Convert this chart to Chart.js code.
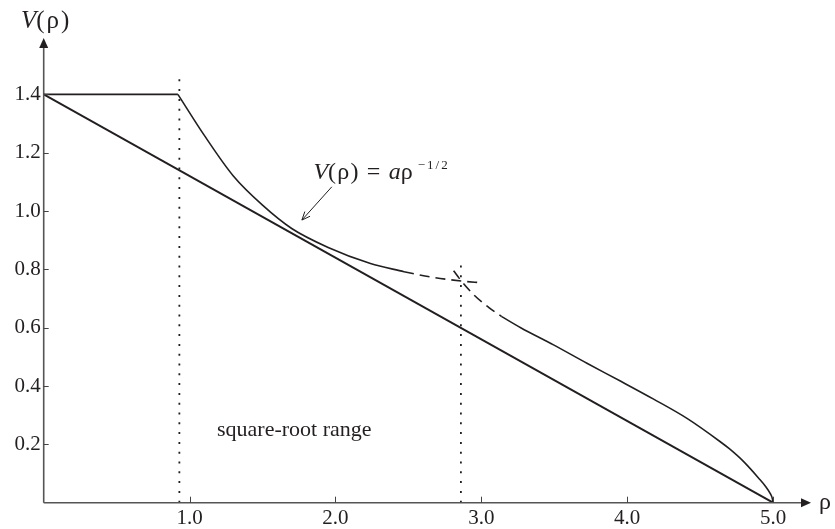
<!DOCTYPE html>
<html lang="en">
<head>
    <meta charset="UTF-8">
    <title>V(ρ) square-root range</title>
    <script src="https://cdn.jsdelivr.net/npm/chart.js@4.4.1/dist/chart.umd.min.js"></script>
    <style>
        body { margin: 0; background: #fff; }
        .wrap { width: 835px; height: 529px; position: relative; }
    </style>
</head>
<body>
    <div class="wrap"><canvas id="chart"></canvas></div>

    <script>
        // tick values
        const xTicks = [1, 2, 3, 4, 5];
        const yTicks = [0.2, 0.4, 0.6, 0.8, 1.0, 1.2, 1.4];

        // straight chord from (0, 1.4) to (5, 0)
        const chordX = [0, 5];
        const chordY = [1.4, 0];

        // flat cap at 1.4
        const capX = [0, 0.92];
        const capY = [1.4, 1.4];

        // a*rho^(-1/2) branch, solid part
        const powX = [0.92, 1.1, 1.3, 1.5, 1.7, 1.95, 2.24, 2.47];
        const powY = [1.4, 1.26, 1.12, 1.02, 0.94, 0.875, 0.82, 0.792];

        // a*rho^(-1/2) branch, dashed continuation
        const powDashX = [2.47, 2.65, 2.862, 3.0];
        const powDashY = [0.792, 0.774, 0.760, 0.754];

        // right branch, dashed start
        const rightDashX = [2.81, 2.86, 2.95, 3.05, 3.14];
        const rightDashY = [0.795, 0.762, 0.712, 0.670, 0.638];

        // right branch, solid
        const rightX = [3.14, 3.27, 3.495, 3.724, 3.953, 4.181, 4.41, 4.638, 4.7, 4.8, 4.9, 4.95, 4.98, 4.995, 5.0];
        const rightY = [0.638, 0.600, 0.541, 0.478, 0.417, 0.355, 0.289, 0.209, 0.185, 0.14, 0.085, 0.055, 0.032, 0.014, 0];

        // dotted markers
        const mark1X = [0.93, 0.93];
        const mark1Y = [0, 1.455];
        const mark2X = [2.86, 2.86];
        const mark2Y = [0, 0.818];

        const INK = '#231f20';
        const SERIF = "'Liberation Serif', 'Times New Roman', serif";

        function pts(xs, ys) {
            return xs.map((x, i) => ({ x: x, y: ys[i] }));
        }

        function line(xs, ys, extra) {
            return Object.assign({
                data: pts(xs, ys),
                borderColor: INK,
                borderWidth: 1.6,
                pointRadius: 0,
                fill: false,
                tension: 0
            }, extra || {});
        }

        const decor = {
            id: 'decor',
            afterDatasetsDraw(chart) {
                const ctx = chart.ctx;
                const xs = chart.scales.x, ys = chart.scales.y;
                const x0 = xs.getPixelForValue(0), y0 = ys.getPixelForValue(0);
                const xEnd = chart.chartArea.right, yEnd = chart.chartArea.top + 2;
                ctx.save();
                // axes
                ctx.strokeStyle = '#555';
                ctx.fillStyle = INK;
                ctx.lineWidth = 1.6;
                ctx.beginPath();
                ctx.moveTo(x0, y0); ctx.lineTo(xEnd - 6, y0);
                ctx.moveTo(x0, y0); ctx.lineTo(x0, yEnd + 6);
                ctx.stroke();
                // arrow heads
                ctx.beginPath();
                ctx.moveTo(xEnd, y0); ctx.lineTo(xEnd - 10, y0 - 4.5); ctx.lineTo(xEnd - 10, y0 + 4.5);
                ctx.closePath(); ctx.fill();
                ctx.beginPath();
                ctx.moveTo(x0, yEnd); ctx.lineTo(x0 - 4.5, yEnd + 10); ctx.lineTo(x0 + 4.5, yEnd + 10);
                ctx.closePath(); ctx.fill();
                // inside tick marks
                ctx.strokeStyle = '#444';
                ctx.lineWidth = 1;
                ctx.beginPath();
                xTicks.forEach(v => {
                    const px = Math.round(xs.getPixelForValue(v)) + 0.5;
                    ctx.moveTo(px, y0); ctx.lineTo(px, y0 - 6);
                });
                yTicks.forEach(v => {
                    const py = Math.round(ys.getPixelForValue(v)) + 0.5;
                    ctx.moveTo(x0, py); ctx.lineTo(x0 + 5, py);
                });
                ctx.stroke();

                // axis titles
                ctx.textBaseline = 'alphabetic';
                ctx.textAlign = 'left';
                function run(parts, x, y) {
                    parts.forEach(p => {
                        ctx.font = p[1];
                        ctx.letterSpacing = p[3] || '0px';
                        ctx.fillText(p[0], x, y + (p[2] || 0));
                        x += ctx.measureText(p[0]).width;
                    });
                    ctx.letterSpacing = '0px';
                    return x;
                }
                run([['V', 'italic 25px ' + SERIF], ['(ρ)', '25px ' + SERIF, 0, '2px']], 21, 28);
                run([['ρ', '24px ' + SERIF]], 819, 509);

                // annotation
                const lx = xs.getPixelForValue(1.849), ly = ys.getPixelForValue(1.111);
                const ex = run([
                    ['V', 'italic 24px ' + SERIF],
                    ['(ρ) = ', '24px ' + SERIF, 0, '1.2px'],
                    ['a', 'italic 24px ' + SERIF],
                    ['ρ', '24px ' + SERIF]
                ], lx, ly);
                run([['−1/2', '13px ' + SERIF, -10, '2px']], ex + 5, ly);

                // arrow to the curve
                const ax = xs.getPixelForValue(1.975), ay = ys.getPixelForValue(1.083);
                const tx = xs.getPixelForValue(1.77), ty = ys.getPixelForValue(0.969);
                ctx.strokeStyle = INK;
                ctx.lineWidth = 1;
                ctx.beginPath();
                ctx.moveTo(ax, ay); ctx.lineTo(tx, ty);
                const ang = Math.atan2(ty - ay, tx - ax);
                ctx.moveTo(tx - 9 * Math.cos(ang - 0.4), ty - 9 * Math.sin(ang - 0.4));
                ctx.lineTo(tx, ty);
                ctx.lineTo(tx - 9 * Math.cos(ang + 0.4), ty - 9 * Math.sin(ang + 0.4));
                ctx.stroke();

                // region label
                ctx.font = '22px ' + SERIF;
                ctx.fillText('square-root range', 217, 436);
                ctx.restore();
            }
        };

        new Chart(document.getElementById('chart'), {
            type: 'line',
            data: {
                datasets: [
                    line(mark1X, mark1Y, { borderDash: [2, 7.8], borderWidth: 1.8 }),
                    line(mark2X, mark2Y, { borderDash: [2, 7.8], borderWidth: 1.8 }),
                    line(chordX, chordY, { borderWidth: 1.9 }),
                    line(capX, capY),
                    line(powX, powY, { cubicInterpolationMode: 'monotone' }),
                    line(powDashX, powDashY, { borderDash: [10, 6], cubicInterpolationMode: 'monotone' }),
                    line(rightDashX, rightDashY, { borderDash: [10, 6], cubicInterpolationMode: 'monotone' }),
                    line(rightX, rightY, { cubicInterpolationMode: 'monotone' })
                ]
            },
            options: {
                responsive: true,
                maintainAspectRatio: false,
                animation: false,
                layout: { padding: { left: 0, right: 24, top: 36, bottom: 0 } },
                plugins: {
                    legend: { display: false },
                    tooltip: { enabled: false }
                },
                scales: {
                    x: {
                        type: 'linear',
                        min: 0,
                        max: 5.26,
                        grid: { display: false, drawTicks: false },
                        border: { display: false },
                        afterBuildTicks: s => { s.ticks = xTicks.map(v => ({ value: v })); },
                        afterFit: s => { s.height = 26.3; },
                        ticks: {
                            padding: 3,
                            color: INK,
                            font: { family: SERIF, size: 21 },
                            callback: v => v.toFixed(1)
                        }
                    },
                    y: {
                        type: 'linear',
                        min: 0,
                        max: 1.6,
                        grid: { display: false, drawTicks: false },
                        border: { display: false },
                        afterBuildTicks: s => { s.ticks = yTicks.map(v => ({ value: v })); },
                        afterFit: s => { s.width = 43.7; },
                        ticks: {
                            padding: 3,
                            color: INK,
                            font: { family: SERIF, size: 21 },
                            callback: v => v.toFixed(1)
                        }
                    }
                }
            },
            plugins: [decor]
        });
    </script>
</body>
</html>
